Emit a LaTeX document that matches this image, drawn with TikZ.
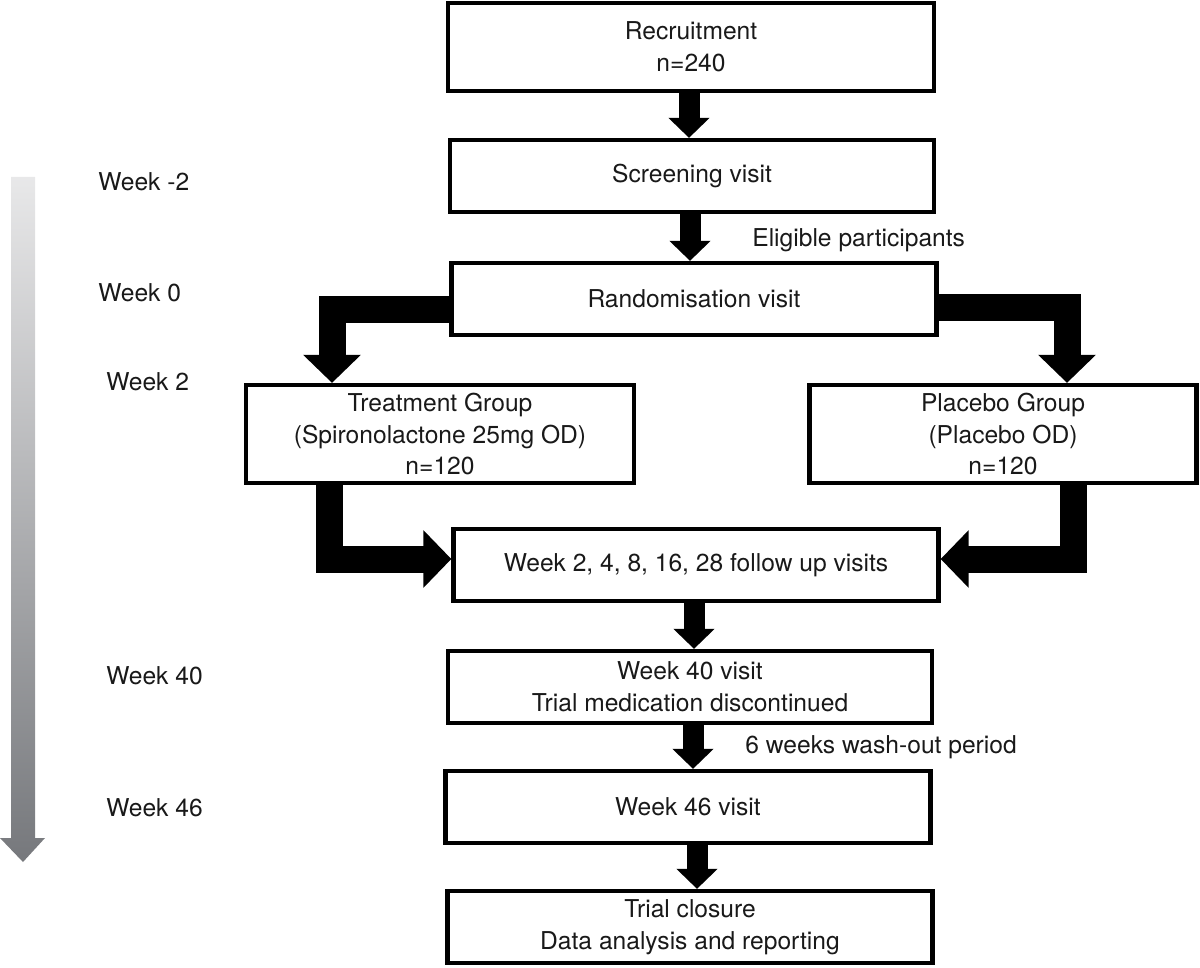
\documentclass[tikz,border=0pt]{standalone}
\usepackage{fontspec}
\setmainfont{TeX Gyre Heros}
\usetikzlibrary{arrows.meta}

\definecolor{barlight}{HTML}{E8E8E9}
\definecolor{bardark}{HTML}{76787C}

\begin{document}
\begin{tikzpicture}[x=0.2mm, y=-0.2mm,
  every node/.style={font=\fontsize{14}{18}\selectfont, text=black!90},
  box/.style={draw, line width=0.85mm, align=center, inner sep=0pt, minimum height=14.4mm},
  lbl/.style={anchor=west, inner sep=0pt},
  fat/.style={line width=4.2mm, -{Triangle[width=8mm, length=4mm]}},
  fatL/.style={line width=5.4mm, line join=miter, -{Triangle[width=11.2mm, length=5.6mm]}}]

\useasboundingbox (0,0) rectangle (1200,967);

% time bar
\shade [top color=barlight, bottom color=bardark]
  (11,177) -- (35,177) -- (35,838) -- (45,838) -- (23,862) -- (0,838) -- (11,838) -- cycle;

\node [lbl] (wm2) at (98,182) {Week -2};
\node [lbl] (w0) at (98,293) {Week 0};
\node [lbl] (w2) at (106,382) {Week 2};
\node [lbl] (w40l) at (106,676) {Week 40};
\node [lbl] (w46l) at (106,808) {Week 46};

% boxes
\node [box, minimum width=97.2mm, minimum height=17.6mm] (recruit) at (691,47) {Recruitment\\n=240};
\node [box, minimum width=96.8mm] (screen) at (692,176) {Screening visit};
\node [box, minimum width=97mm] (rand) at (694,299) {Randomisation visit};
\node [box, minimum width=77.6mm, minimum height=19.6mm] (treat) at (440,434) {Treatment Group\\(Spironolactone 25mg OD)\\n=120};
\node [box, minimum width=77.4mm, minimum height=19.6mm] (placebo) at (1003,434) {Placebo Group\\(Placebo OD)\\n=120};
\node [box, minimum width=97mm] (follow) at (696,565) {Week 2, 4, 8, 16, 28 follow up visits};
\node [box, minimum width=96.8mm] (w40) at (690,687) {Week 40 visit\\Trial medication discontinued};
\node [box, minimum width=97mm] (w46) at (688,807) {Week 46 visit};
\node [box, minimum width=97mm] (closure) at (690,927) {Trial closure\\Data analysis and reporting};

\node [lbl] (elig) at (752,240) {Eligible participants};
\node [lbl] (wash) at (745,747) {6 weeks wash-out period};

% arrows
\draw [fat] (689,0 |- recruit.south) -- (689,0 |- screen.north);
\draw [fat] (690,0 |- screen.south) -- (690,0 |- rand.north);
\draw [fatL] (rand.west |- 0,309) -| (332,0 |- treat.north);
\draw [fatL] (rand.east |- 0,307) -| (1067,0 |- placebo.north);
\draw [fatL] (329,0 |- treat.south) |- (follow.west |- 0,559);
\draw [fatL] (1073,0 |- placebo.south) |- (follow.east |- 0,559);
\draw [fat] (694,0 |- follow.south) -- (694,0 |- w40.north);
\draw [fat] (693,0 |- w40.south) -- (693,0 |- w46.north);
\draw [fat] (697,0 |- w46.south) -- (697,0 |- closure.north);

\end{tikzpicture}
\end{document}
